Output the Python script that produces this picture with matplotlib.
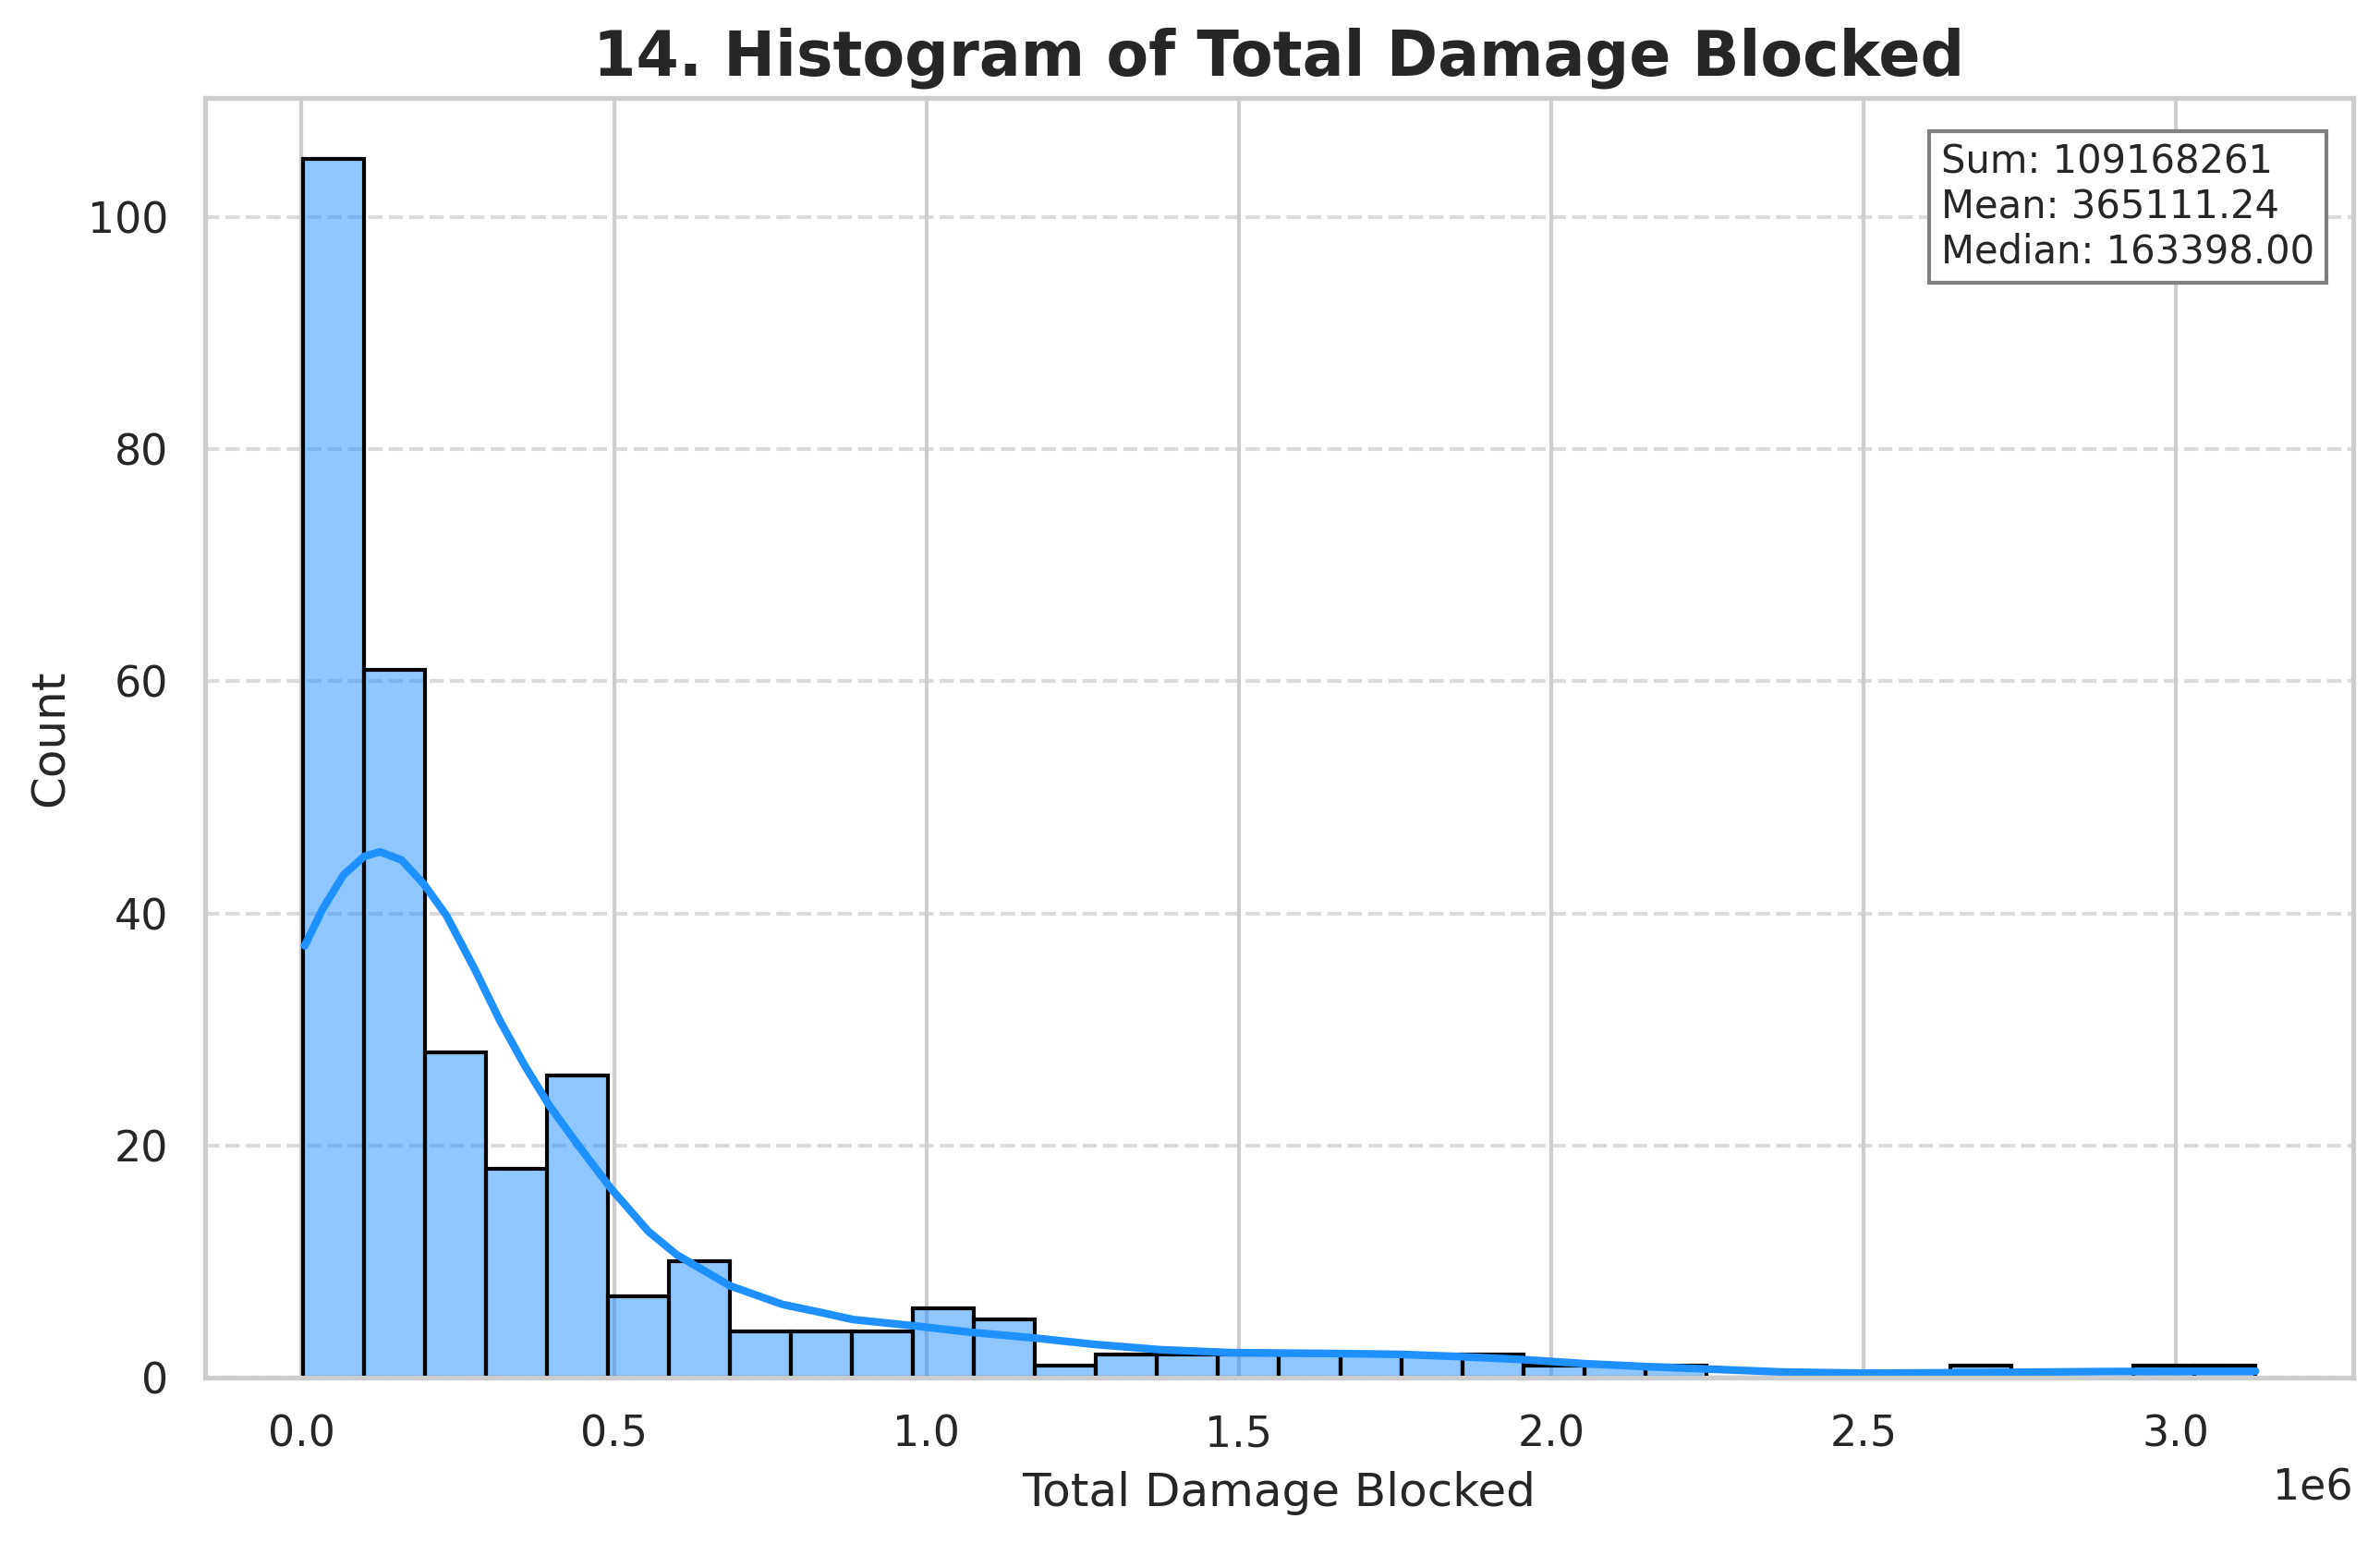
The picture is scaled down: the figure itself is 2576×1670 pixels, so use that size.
import numpy as np
import matplotlib
matplotlib.use("Agg")
import matplotlib.pyplot as plt
import matplotlib.colors as mcolors
import seaborn as sns

# bin counts (32 equal bins)
counts = [105, 61, 28, 18, 26, 7, 10, 4, 4, 4, 6, 5, 1, 2, 2, 2,
          2, 2, 2, 2, 1, 1, 1, 0, 0, 0, 0, 1, 0, 0, 1, 1]
data_min = 2000
data_max = 3127000

# kde curve (x in units of 1e6, y in counts)
kde_x = [0.005, 0.034, 0.067, 0.100, 0.1255, 0.160, 0.196, 0.232, 0.278,
         0.317, 0.357, 0.397, 0.443, 0.495, 0.555, 0.600, 0.686, 0.770,
         0.832, 0.883, 0.982, 1.072, 1.175, 1.269, 1.375, 1.488, 1.661,
         1.759, 1.857, 1.955, 2.053, 2.150, 2.249, 2.370, 2.500, 2.660,
         2.884, 3.127]
kde_y = [37.2, 40.4, 43.3, 44.9, 45.3, 44.6, 42.5, 39.8, 35.1,
         30.8, 26.9, 23.4, 20.0, 16.3, 12.6, 10.6, 7.9, 6.3,
         5.6, 5.0, 4.45, 3.9, 3.4, 2.86, 2.4, 2.15, 2.07,
         2.0, 1.8, 1.55, 1.2, 0.95, 0.74, 0.48, 0.38, 0.42,
         0.52, 0.55]

total = 109168261
mean = 365111.24
median = 163398.00

sns.set_theme(style="whitegrid")

fig = plt.figure(figsize=(2576 / 300, 1670 / 300))
ax = fig.add_subplot(111)
fig.subplots_adjust(left=0.0862, right=0.9887, bottom=0.1072, top=0.9365)

edges = np.linspace(data_min, data_max, len(counts) + 1)
ax.bar(edges[:-1], counts, width=np.diff(edges), align="edge",
       facecolor=mcolors.to_rgba("dodgerblue", 0.5), edgecolor="black",
       linewidth=1.0)
ax.plot(np.array(kde_x) * 1e6, kde_y, color="dodgerblue", linewidth=2.0,
        solid_joinstyle="round")

ax.set_title("14. Histogram of Total Damage Blocked", fontsize=16, fontweight="bold")
ax.set_xlabel("Total Damage Blocked")
ax.set_ylabel("Count")
ax.grid(axis="y", linestyle="--", alpha=0.7)

# stats box in the upper right
stats = f"Sum: {total}\nMean: {mean:.2f}\nMedian: {median:.2f}"
ax.text(0.982, 0.965, stats, transform=ax.transAxes, ha="right", va="top",
        multialignment="left", fontsize=10,
        bbox=dict(boxstyle="square", facecolor="white", edgecolor="gray"))

fig.savefig("out.png", dpi=300)
